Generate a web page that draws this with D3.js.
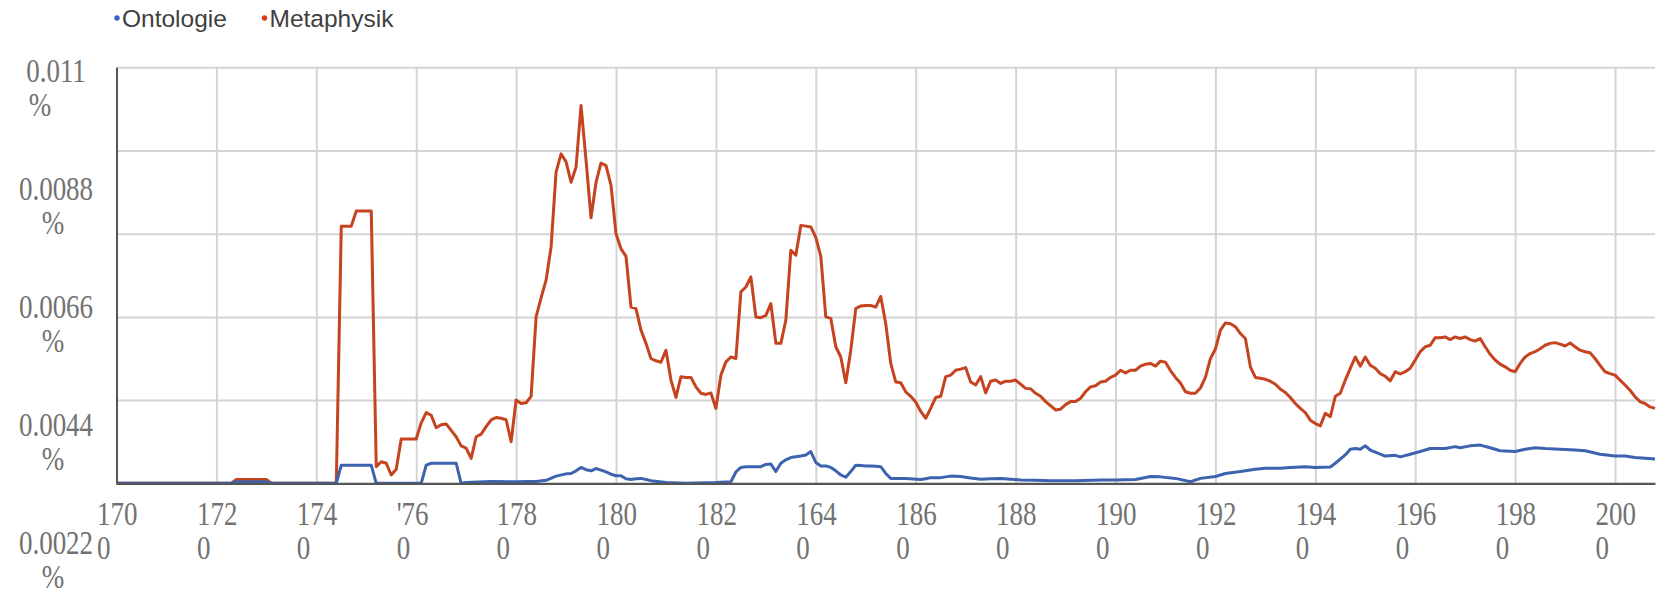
<!DOCTYPE html>
<html>
<head>
<meta charset="utf-8">
<script src="https://cdn.jsdelivr.net/npm/d3@7"></script>
<style>
  html, body { margin: 0; padding: 0; background: #ffffff; }
  svg { display: block; }
</style>
</head>
<body>
<svg id="chart" width="1669" height="597"></svg>
<script>
// ---------- DATA ----------
const seriesNames = ["Ontologie", "Metaphysik"];
const seriesColors = ["#3d63ae", "#c6431f"];
const legendDotColors = ["#3366cc", "#dc3912"];

const metaYears = [1700,1723,1724,1730,1731,1744,1745,1747,1748,1751,1752,1753,1754,1755,1756,1757,1759,1760,1761,1762,1763,1764,1765,1766,1767,1768,1769,1770,1771,1772,1773,1774,1775,1776,1777,1778,1779,1780,1781,1782,1783,1784,1785,1786,1787,1788,1789,1790,1791,1792,1793,1794,1795,1796,1797,1798,1799,1800,1801,1802,1803,1804,1805,1806,1807,1808,1809,1810,1811,1812,1813,1814,1815,1816,1817,1818,1819,1820,1821,1822,1823,1824,1825,1826,1827,1828,1829,1830,1831,1832,1833,1834,1835,1836,1837,1838,1839,1840,1841,1842,1843,1844,1845,1846,1847,1848,1849,1850,1851,1852,1853,1854,1855,1856,1857,1858,1859,1860,1861,1862,1863,1864,1865,1866,1867,1868,1869,1870,1871,1872,1873,1874,1875,1876,1877,1878,1879,1880,1881,1882,1883,1884,1885,1886,1887,1888,1889,1890,1891,1892,1893,1894,1895,1896,1897,1898,1899,1900,1901,1902,1903,1904,1905,1906,1907,1908,1909,1910,1911,1912,1913,1914,1915,1916,1917,1918,1919,1920,1921,1922,1923,1924,1925,1926,1927,1928,1929,1930,1931,1932,1933,1934,1935,1936,1937,1938,1939,1940,1941,1942,1943,1944,1945,1946,1947,1948,1949,1950,1951,1952,1953,1954,1955,1956,1957,1958,1959,1960,1961,1962,1963,1964,1965,1966,1967,1968,1969,1970,1971,1972,1973,1974,1975,1976,1977,1978,1979,1980,1981,1982,1983,1984,1985,1986,1987,1988,1989,1990,1991,1992,1993,1994,1995,1996,1997,1998,1999,2000,2001,2002,2003,2004,2005,2006,2007,2008];
const metaValues = [0,0,0.0001,0.0001,0,0,0.0068,0.0068,0.0072,0.0072,0.00044,0.00057,0.00053,0.00022,0.00037,0.00117,0.00117,0.00117,0.0016,0.00187,0.0018,0.00147,0.00155,0.00157,0.0014,0.00123,0.00099,0.00093,0.00066,0.00123,0.0013,0.0015,0.00168,0.00174,0.00172,0.00168,0.0011,0.0022,0.00211,0.00213,0.0023,0.0044,0.0049,0.00537,0.00625,0.00823,0.00871,0.0085,0.00796,0.00836,0.00999,0.00854,0.00702,0.00796,0.00847,0.0084,0.00788,0.0066,0.0062,0.006,0.00466,0.00462,0.00405,0.0037,0.0033,0.00324,0.0032,0.00352,0.00273,0.00227,0.00282,0.0028,0.0028,0.00255,0.00238,0.00235,0.00239,0.00198,0.00286,0.00321,0.00334,0.0033,0.00506,0.00519,0.00546,0.0044,0.00438,0.00444,0.00475,0.0037,0.0037,0.00431,0.00616,0.00603,0.00682,0.0068,0.00678,0.0065,0.006,0.0044,0.00436,0.00361,0.00334,0.00266,0.00352,0.00462,0.00469,0.0047,0.0047,0.00466,0.00494,0.00422,0.00317,0.00268,0.00266,0.00242,0.0023,0.00215,0.0019,0.00172,0.00198,0.00227,0.0023,0.00282,0.00286,0.00299,0.00302,0.00306,0.00268,0.0026,0.00282,0.00239,0.0027,0.00273,0.00264,0.0027,0.0027,0.00273,0.00262,0.00251,0.0025,0.00238,0.0023,0.00216,0.00205,0.00194,0.00196,0.00208,0.00216,0.00216,0.00225,0.00242,0.00255,0.00258,0.00268,0.0027,0.0028,0.00286,0.00299,0.00292,0.00299,0.00299,0.0031,0.00315,0.00317,0.0031,0.00323,0.0032,0.00298,0.0028,0.00265,0.00242,0.00238,0.00238,0.00252,0.0028,0.0033,0.00355,0.00405,0.00424,0.00422,0.00414,0.00396,0.00383,0.00308,0.0028,0.00278,0.00275,0.0027,0.00262,0.00249,0.0024,0.00227,0.00211,0.00198,0.00187,0.00167,0.00158,0.00152,0.00185,0.00176,0.0023,0.00238,0.00273,0.00304,0.00334,0.0031,0.00334,0.00312,0.00304,0.0029,0.00283,0.00271,0.00295,0.00289,0.00295,0.00304,0.00326,0.00348,0.00361,0.00365,0.00385,0.00385,0.00387,0.0038,0.00387,0.00383,0.00387,0.0038,0.00376,0.00383,0.00361,0.00341,0.00326,0.00315,0.00308,0.00299,0.00295,0.00317,0.00334,0.00343,0.00348,0.00356,0.00365,0.0037,0.00372,0.00368,0.00363,0.00371,0.00361,0.00352,0.00348,0.00345,0.0033,0.00312,0.00295,0.0029,0.00286,0.00273,0.0026,0.00246,0.00229,0.00216,0.00211,0.00202,0.00198];

const ontoYears = [1700,1723,1724,1730,1731,1744,1745,1751,1752,1761,1762,1763,1768,1769,1770,1775,1780,1782,1784,1786,1788,1790,1791,1792,1793,1794,1795,1796,1797,1798,1799,1800,1801,1802,1803,1804,1805,1806,1807,1810,1814,1820,1823,1824,1825,1826,1829,1830,1831,1832,1833,1834,1835,1836,1837,1838,1839,1840,1841,1842,1843,1844,1845,1846,1847,1848,1849,1850,1851,1852,1853,1854,1855,1856,1858,1861,1862,1863,1865,1867,1869,1871,1873,1875,1877,1879,1881,1884,1887,1892,1897,1900,1904,1907,1909,1912,1915,1917,1920,1922,1925,1928,1930,1933,1935,1938,1940,1943,1944,1946,1947,1948,1949,1950,1951,1953,1954,1956,1957,1959,1961,1963,1966,1968,1969,1971,1973,1975,1977,1980,1982,1984,1986,1989,1992,1994,1997,2000,2002,2004,2008];
const ontoValues = [0,0,0.00004,0.00004,0,0,0.00048,0.00048,0,0,0.00048,0.00053,0.00053,0,0.00002,0.00005,0.00004,0.00005,0.00005,0.00008,0.00019,0.00025,0.00026,0.00033,0.00042,0.00036,0.00033,0.00039,0.00035,0.0003,0.00024,0.0002,0.0002,0.00012,0.0001,0.00012,0.00013,0.0001,0.00007,0.00002,0,0.00002,0.00004,0.0003,0.00042,0.00044,0.00044,0.0005,0.00051,0.00031,0.00053,0.00062,0.00068,0.0007,0.00072,0.00075,0.00084,0.00055,0.00046,0.00046,0.00042,0.00033,0.00022,0.00016,0.00031,0.00048,0.00047,0.00046,0.00046,0.00045,0.00044,0.00026,0.00013,0.00013,0.00013,0.0001,0.00012,0.00015,0.00015,0.00019,0.00018,0.00014,0.00011,0.00012,0.00013,0.00011,0.00009,0.00008,0.00007,0.00007,0.00009,0.00009,0.0001,0.00018,0.00017,0.00013,0.00004,0.00013,0.00018,0.00026,0.00031,0.00037,0.0004,0.0004,0.00042,0.00044,0.00042,0.00043,0.00053,0.00075,0.0009,0.00092,0.0009,0.00099,0.00088,0.00077,0.00072,0.00074,0.0007,0.00077,0.00084,0.00092,0.00092,0.00097,0.00094,0.00099,0.00101,0.00094,0.00086,0.00084,0.0009,0.00094,0.00092,0.0009,0.00088,0.00086,0.00077,0.00072,0.00072,0.00068,0.00064];

const yTickValues = [0.0022, 0.0044, 0.0066, 0.0088, 0.011];
const yTickLabels = ["0.0022", "0.0044", "0.0066", "0.0088", "0.011"];
const xTickYears = [1700,1720,1740,1760,1780,1800,1820,1840,1860,1880,1900,1920,1940,1960,1980,2000];
const xTickTop = ["170","172","174","'76","178","180","182","164","186","188","190","192","194","196","198","200"];
const xTickBottom = ["0","0","0","0","0","0","0","0","0","0","0","0","0","0","0","0"];

// ---------- LAYOUT ----------
const svg = d3.select("#chart");
const x = d3.scaleLinear().domain([1700, 2008]).range([116.5, 1655]);
const y = d3.scaleLinear().domain([0, 0.011]).range([483.3, 67.3]);
// the reference's y labels are spread further apart than its gridlines
const yLabelPos = d3.scaleLinear().domain([0.0022, 0.011]).range([542, 70]);

const x0 = x.range()[0], x1 = x.range()[1];
const yb = y.range()[0], yt = y.range()[1];

// horizontal gridlines
const hGrid = svg.append("g").attr("transform", `translate(${x0},0)`)
  .call(d3.axisLeft(y).tickValues(yTickValues).tickSize(-(x1 - x0)).tickFormat(""));
hGrid.select(".domain").remove();
hGrid.selectAll(".tick line").attr("stroke", "#d4d4d4").attr("stroke-width", 2);

// vertical gridlines
const vGrid = svg.append("g").attr("transform", `translate(0,${yb})`)
  .call(d3.axisBottom(x).tickValues(xTickYears.slice(1)).tickSize(-(yb - yt)).tickFormat(""));
vGrid.select(".domain").remove();
vGrid.selectAll(".tick line").attr("stroke", "#d4d4d4").attr("stroke-width", 2);

// lines
const series = [
  { name: seriesNames[0], years: ontoYears, values: ontoValues, color: seriesColors[0] },
  { name: seriesNames[1], years: metaYears, values: metaValues, color: seriesColors[1] }
];
const line = d3.line().x(d => x(d[0])).y(d => y(d[1]));
// draw Metaphysik first, Ontologie on top
[series[1], series[0]].forEach(s => {
  const pts = s.years.map((yr, i) => [yr, s.values[i]]);
  svg.append("path").datum(pts)
    .attr("fill", "none")
    .attr("stroke", s.color)
    .attr("stroke-width", 3)
    .attr("stroke-linejoin", "round")
    .attr("d", line);
});

// axis lines
const leftAxis = svg.append("g").attr("transform", `translate(${x0},0)`)
  .call(d3.axisLeft(y).tickValues([]).tickSizeOuter(0));
leftAxis.select(".domain").attr("stroke", "#555").attr("stroke-width", 2);
const bottomAxis = svg.append("g").attr("transform", `translate(0,${yb})`)
  .call(d3.axisBottom(x).tickValues([]).tickSizeOuter(0));
bottomAxis.select(".domain").attr("stroke", "#555").attr("stroke-width", 2.2);

// x labels (wrapped in two lines)
const xLab = svg.append("g").attr("transform", `translate(0,${yb})`)
  .call(d3.axisBottom(x).tickValues(xTickYears).tickSize(0).tickFormat(""));
xLab.select(".domain").remove();
xLab.selectAll(".tick").each(function(d, i) {
  const g = d3.select(this);
  g.selectAll("text").remove();
  [xTickTop[i], xTickBottom[i]].forEach((t, k) => {
    g.append("text")
      .attr("transform", `translate(-20,${41.5 + k * 34}) scale(1,1.25)`)
      .attr("text-anchor", "start")
      .attr("font-family", "'Liberation Serif', 'Times New Roman', serif")
      .attr("font-size", 27)
      .attr("fill", "#727272")
      .text(t);
  });
});

// y labels (wrapped in two lines)
const yLab = svg.append("g").attr("transform", "translate(56,0)")
  .call(d3.axisLeft(yLabelPos).tickValues(yTickValues).tickSize(0).tickFormat(""));
yLab.select(".domain").remove();
yLab.selectAll(".tick").each(function(d, i) {
  const g = d3.select(this);
  g.selectAll("text").remove();
  const pctDx = (d === 0.011) ? -16 : -3;
  [[yTickLabels[i], 0], ["%", pctDx]].forEach(([t, dx], k) => {
    g.append("text")
      .attr("transform", `translate(${dx},${11 + k * 34}) scale(1,1.25)`)
      .attr("text-anchor", "middle")
      .attr("font-family", "'Liberation Serif', 'Times New Roman', serif")
      .attr("font-size", 27)
      .attr("fill", "#727272")
      .text(t);
  });
});

// legend
const legendX = [117, 264.5];
const legend = svg.append("g");
seriesNames.forEach((n, i) => {
  legend.append("circle").attr("cx", legendX[i]).attr("cy", 18).attr("r", 2.7).attr("fill", legendDotColors[i]);
  legend.append("text")
    .attr("x", legendX[i] + 5).attr("y", 27.3)
    .attr("font-family", "'Liberation Sans', Arial, sans-serif")
    .attr("font-size", 24.5)
    .attr("fill", "#3f3f3f")
    .text(n);
});
</script>
</body>
</html>
